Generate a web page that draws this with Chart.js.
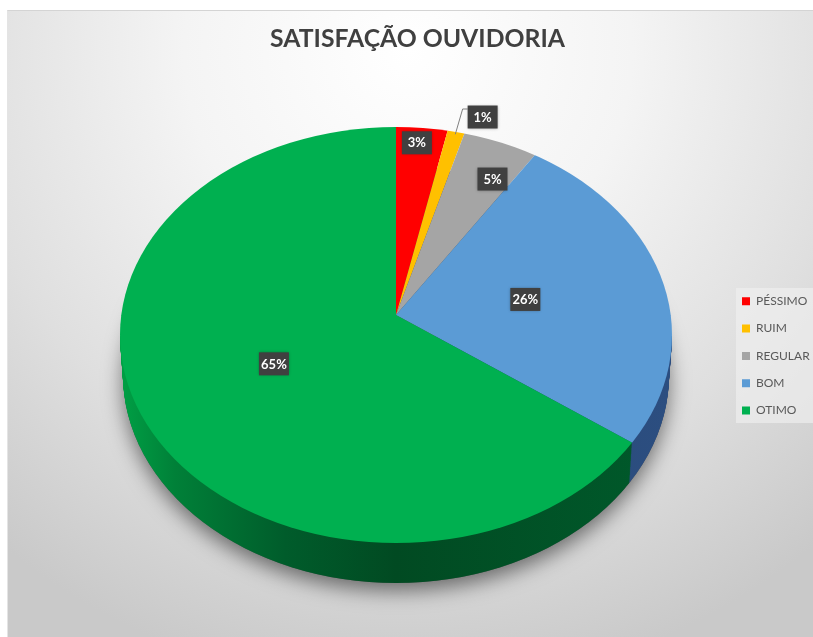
<!DOCTYPE html>
<html><head><meta charset="utf-8">
<script src="https://cdn.jsdelivr.net/npm/chart.js@4"></script>
<style>
html,body{margin:0;padding:0;background:#fff;width:813px;height:637px;overflow:hidden}
#frame{position:absolute;left:7px;top:10px;width:806px;height:627px;box-sizing:border-box;border-top:1px solid #d4d4d4;border-left:1px solid #e4e4e4;
background:radial-gradient(ellipse 640px 640px at 400px 40px,#ffffff 0%,#f4f4f4 35%,#dfdfdf 70%,#c9c9c9 100%)}
#c{position:absolute;left:0;top:0}
</style></head><body>
<div id="frame"></div>
<div style="position:absolute;left:0;top:0;width:813px;height:637px"><canvas id="c" width="813" height="637"></canvas></div>
<script>
const titleText = 'SATISFAÇÃO OUVIDORIA';
const categories = ['PÉSSIMO','RUIM','REGULAR','BOM','OTIMO'];
const values = [3.0,1.0,4.5,26.05,65.45];
const sliceColors = ['#ff0000','#ffc000','#a5a5a5','#5b9bd5','#00b050'];
const labelRadius = [0.92,1.09,0.80,0.48,0.50];
const labelNudge = [[-3,0],[21,2],[12,3],[0,4],[0,-2]];

// projected geometry of the tilted pie: apex is above the centre of the outline
const G = {cx:396, apexY:315, ellY:335, rx:276, ry:208, rayUp:188, rayDown:218, depth:40, rimRx:273};

const pie3d = {
  id:'pie3d',
  afterLayout(chart){
    const l = chart.legend;
    l.left = 726.7; l.right = 813; l.top = 280; l.bottom = 637;
    const t = chart.titleBlock;
    t.left = 11; t.right = 824;
  },
  beforeDraw(chart){
    const c = chart.ctx;
    c.save();
    c.fillStyle = 'rgba(240,240,240,0.65)';
    c.fillRect(736,288,77,135);
    c.restore();
  },
  beforeDatasetsDraw(chart){
    const c = chart.ctx, arcs = chart.getDatasetMeta(0).data;
    const a0 = arcs[0], R = a0.outerRadius;
    const grow = 1.3;
    const place = (ky,d,rx) => {
      c.translate(G.cx,G.apexY+d);
      c.scale(rx/R*grow,ky/R*grow);
      c.translate(-a0.x,-a0.y);
    };
    const wallFill = i => {
      const g = c.createLinearGradient(120,0,672,0);
      if(i===3){g.addColorStop(0,'#22406c');g.addColorStop(1,'#2c4e80');return g;}
      g.addColorStop(0,'#00a045');g.addColorStop(0.1,'#008038');g.addColorStop(0.3,'#005c2b');
      g.addColorStop(0.5,'#014a22');g.addColorStop(1,'#005a2b');
      return g;
    };
    // soft shadow under the pie
    c.save();
    c.shadowColor='rgba(0,0,0,0.5)';c.shadowBlur=20;c.shadowOffsetY=8;
    c.fillStyle='#555';
    c.beginPath();c.ellipse(G.cx,G.ellY+G.depth,G.rimRx,G.ry,0,0,Math.PI*2);c.fill();
    c.restore();
    // wall, deepest layer first; only front half slices reach it
    for(let d=G.depth;d>=1;d--){
      const rx = G.rx-(G.rx-G.rimRx)*d/G.depth;
      arcs.forEach((a,i)=>{
        if(i<3) return;
        c.save();
        c.beginPath();c.ellipse(G.cx,G.ellY+d,rx,G.ry,0,0,Math.PI*2);c.clip();
        c.beginPath();c.rect(0,G.ellY+d,813,637);c.clip();
        place(G.rayDown,d,rx);
        c.beginPath();c.moveTo(a.x,a.y);c.arc(a.x,a.y,a.outerRadius,a.startAngle,a.endAngle);c.closePath();
        c.setTransform(1,0,0,1,0,0);
        c.fillStyle=wallFill(i);c.fill();
        c.restore();
      });
    }
    // top surface: ellipse outline; rays keep different foreshortening behind and in front of the apex
    c.save();
    c.beginPath();c.ellipse(G.cx,G.ellY,G.rx,G.ry,0,0,Math.PI*2);c.clip();
    [[G.rayUp,0,G.apexY+0.5],[G.rayDown,G.apexY,637]].forEach(([ky,y0,y1])=>{
      c.save();
      c.beginPath();c.rect(0,y0,813,y1-y0);c.clip();
      place(ky,0,G.rx);
      arcs.forEach(a=>a.draw(c));
      c.restore();
    });
    c.restore();
    // leader line and value labels
    const pos = arcs.map((a,i)=>{
      const m=(a.startAngle+a.endAngle)/2, r=labelRadius[i];
      const ux=Math.cos(m)*r, uy=Math.sin(m)*r;
      return [G.cx+ux*G.rx+labelNudge[i][0], G.apexY+uy*(uy<0?G.rayUp:G.rayDown)+labelNudge[i][1]];
    });
    const a1=arcs[1], m1=(a1.startAngle+a1.endAngle)/2;
    c.save();
    c.strokeStyle='#7f7f7f';c.lineWidth=1;c.beginPath();
    c.moveTo(G.cx+Math.cos(m1)*G.rx*0.985,G.apexY+Math.sin(m1)*G.rayUp*0.985);
    c.lineTo(pos[1][0]-20,pos[1][1]-8);c.lineTo(pos[1][0]-15,pos[1][1]-8);c.stroke();
    c.font='bold 13px Lato';c.textAlign='center';c.textBaseline='middle';
    const total=values.reduce((p,v)=>p+v,0);
    values.forEach((v,i)=>{
      const t=Math.round(v/total*100)+'%', [x,y]=pos[i];
      c.fillStyle='#404040';c.shadowColor='rgba(0,0,0,0.35)';c.shadowBlur=3;
      c.fillRect(x-15,y-11.5,30,23);
      c.shadowColor='transparent';c.shadowBlur=0;
      c.fillStyle='#ffffff';c.fillText(t,x,y+0.5);
    });
    c.restore();
    return false;
  }
};

new Chart(document.getElementById('c'),{
  type:'pie',
  data:{labels:categories,datasets:[{data:values,backgroundColor:sliceColors,borderWidth:0}]},
  options:{
    responsive:false,animation:false,
    plugins:{
      title:{display:true,text:titleText,color:'#404040',font:{family:'Lato',size:24.75,weight:'bold'},padding:{top:24,bottom:10}},
      legend:{position:'right',align:'start',labels:{boxWidth:8,boxHeight:8,padding:15.3,color:'#595959',font:{family:'Lato',size:12}}},
      tooltip:{enabled:false}
    }
  },
  plugins:[pie3d]
});
</script>
</body></html>
